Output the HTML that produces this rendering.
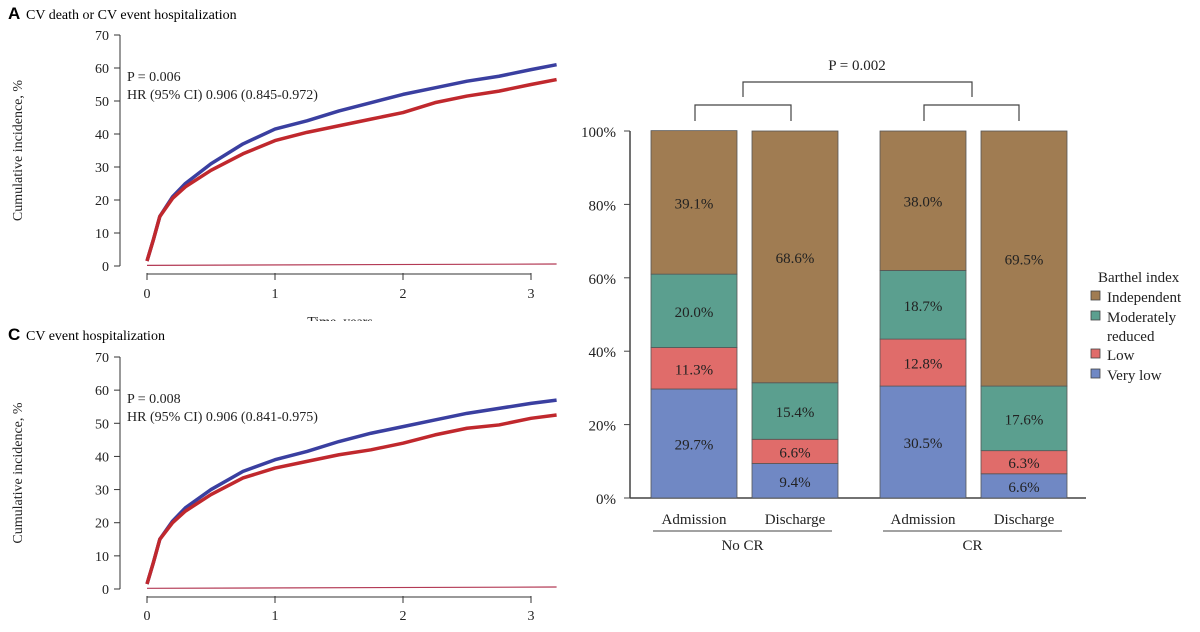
<!DOCTYPE html>
<html><head><meta charset="utf-8"><style>
body{margin:0;background:#fff;}
svg{display:block;font-family:"Liberation Serif",serif;}
</style></head><body>
<svg id="svg" width="1200" height="632" viewBox="0 0 1200 632" xmlns="http://www.w3.org/2000/svg">
<defs><clipPath id="clipA"><rect x="0" y="0" width="580" height="321"/></clipPath></defs>
<g id="left"></g>
<g id="right"></g>
</svg>
<script>
// ===== KM curves data =====
const kmTimes = [0, 0.05, 0.1, 0.2, 0.3, 0.5, 0.75, 1, 1.25, 1.5, 1.75, 2, 2.25, 2.5, 2.75, 3, 3.2];
const aBlue = [1.5, 8, 15, 21, 25, 31, 37, 41.5, 44, 47, 49.5, 52, 54, 56, 57.5, 59.5, 61];
const aRed  = [1.5, 8, 15, 20.5, 24, 29, 34, 38, 40.5, 42.5, 44.5, 46.5, 49.5, 51.5, 53, 55, 56.5];
const cBlue = [1.5, 8, 15, 20.5, 24.5, 30, 35.5, 39, 41.5, 44.5, 47, 49, 51, 53, 54.5, 56, 57];
const cRed  = [1.5, 8, 15, 20, 23.5, 28.5, 33.5, 36.5, 38.5, 40.5, 42, 44, 46.5, 48.5, 49.5, 51.5, 52.5];
const flatTimes = [0, 3.2];
const flatVals = [0.2, 0.6];
const yTicks = [0, 10, 20, 30, 40, 50, 60, 70];
const xTicks = [0, 1, 2, 3];

// ===== Bar data =====
const barCats = ["Admission", "Discharge", "Admission", "Discharge"];
const veryLow = [29.7, 9.4, 30.5, 6.6];
const low = [11.3, 6.6, 12.8, 6.3];
const moderate = [20.0, 15.4, 18.7, 17.6];
const independent = [39.1, 68.6, 38.0, 69.5];
const pctTicks = [0, 20, 40, 60, 80, 100];

const NS = "http://www.w3.org/2000/svg";
function mk(tag, attrs, parent, text) {
  const e = document.createElementNS(NS, tag);
  for (const k in attrs) e.setAttribute(k, attrs[k]);
  if (text !== undefined) e.textContent = text;
  parent.appendChild(e);
  return e;
}
const left = document.getElementById("left");
const right = document.getElementById("right");

function kmPanel(letter, title, titleY, y0, y70, axisY, labelY, pText, hrText, pY, blue, red, clip) {
  const g = mk("g", clip ? {"clip-path": "url(#clipA)"} : {}, left);
  
  
  const xS = t => 147 + t * 128;
  const yS = v => y0 + (y70 - y0) * v / 70;
  const L = mk("text", {x: 8, y: titleY, "font-family": "Liberation Sans,sans-serif", "font-weight": "bold", "font-size": 17}, g, letter);
  
  
  const T = mk("text", {x: 26, y: titleY, "font-size": 14}, g, title);
  
  
  const ya = mk("line", {x1: 120, x2: 120, y1: yS(0), y2: yS(70), stroke: "#333", "stroke-width": 1}, g);
  
  
  yTicks.forEach(v => {
    mk("line", {x1: 114, x2: 120, y1: yS(v), y2: yS(v), stroke: "#333"}, g);
    const t = mk("text", {x: 109, y: yS(v) + 5, "text-anchor": "end", "font-size": 14, fill: "#222"}, g, v);
    
    
  });
  const yt = mk("text", {x: 0, y: 0, transform: `translate(22,${(yS(0) + yS(70)) / 2}) rotate(-90)`, "text-anchor": "middle", "font-size": 14, fill: "#222"}, g, "Cumulative incidence, %");
  
  
  const xa = mk("line", {x1: xS(0), x2: xS(3), y1: axisY, y2: axisY, stroke: "#333"}, g);
  
  
  xTicks.forEach(v => {
    mk("line", {x1: xS(v), x2: xS(v), y1: axisY - 1, y2: axisY + 6, stroke: "#333"}, g);
    const t = mk("text", {x: xS(v), y: labelY, "text-anchor": "middle", "font-size": 14, fill: "#222"}, g, v);
    
    
  });
  const xt = mk("text", {x: 340, y: labelY + 28, "text-anchor": "middle", "font-size": 14, fill: "#222"}, g, "Time, years");
  
  
  const p1 = mk("text", {x: 127, y: pY, "font-size": 14, fill: "#222"}, g, pText);
  
  
  const p2 = mk("text", {x: 127, y: pY + 18, "font-size": 14, fill: "#222"}, g, hrText);
  
  
  [[flatVals, flatTimes, "#b33a55", 1.2, "flat-line"], [blue, kmTimes, "#3a3fa0", 3.5, "cr-curve"], [red, kmTimes, "#c0282d", 3.5, "no-cr-curve"]].forEach(([vals, ts, col, w, nm]) => {
    const pts = vals.map((v, i) => xS(ts[i]) + "," + yS(v)).join(" ");
    const pl = mk("polyline", {points: pts, fill: "none", stroke: col, "stroke-width": w, "stroke-linejoin": "round"}, g);
    
    
  });
}
kmPanel("A", "CV death or CV event hospitalization", 19, 266, 35, 274, 298, "P = 0.006", "HR (95% CI) 0.906 (0.845-0.972)", 81, aBlue, aRed, true);
kmPanel("C", "CV event hospitalization", 340, 589, 357, 597, 620, "P = 0.008", "HR (95% CI) 0.906 (0.841-0.975)", 403, cBlue, cRed, false);

// ===== Bar chart =====
const yB = v => 498 + (131 - 498) * v / 100;
const barX = [651, 752, 880, 981];
const barW = 86;
const cols = ["#7088c4", "#e06c6a", "#5b9f8f", "#a07c52"];
const segNames = ["very-low", "low", "moderately-reduced", "independent"];
const series = [veryLow, low, moderate, independent];
mk("line", {x1: 630, x2: 630, y1: yB(0), y2: yB(100), stroke: "#444", "stroke-width": 1.5}, right);
mk("line", {x1: 630, x2: 1086, y1: yB(0), y2: yB(0), stroke: "#444", "stroke-width": 1.5}, right);
pctTicks.forEach(v => {
  mk("line", {x1: 624, x2: 630, y1: yB(v), y2: yB(v), stroke: "#444"}, right);
  const t = mk("text", {x: 616, y: yB(v) + 6, "text-anchor": "end", "font-size": 15, fill: "#222"}, right, v + "%");
  
  
});
barCats.forEach((c, i) => {
  let cum = 0;
  series.forEach((s, k) => {
    const v = s[i];
    const r = mk("rect", {x: barX[i], y: yB(cum + v), width: barW, height: yB(cum) - yB(cum + v), fill: cols[k], stroke: "#555", "stroke-width": 0.8}, right);
    
    
    const t = mk("text", {x: barX[i] + barW / 2, y: (yB(cum) + yB(cum + v)) / 2 + 6, "text-anchor": "middle", "font-size": 15, fill: "#222"}, right, v.toFixed(1) + "%");
    
    
    cum += v;
  });
  const t = mk("text", {x: barX[i] + barW / 2, y: 524, "text-anchor": "middle", "font-size": 15, fill: "#222"}, right, c);
  
  
});
[["No CR", 653, 832], ["CR", 883, 1062]].forEach(([n, a, b]) => {
  mk("line", {x1: a, x2: b, y1: 531, y2: 531, stroke: "#444"}, right);
  const t = mk("text", {x: (a + b) / 2, y: 550, "text-anchor": "middle", "font-size": 15, fill: "#222"}, right, n);
  
  
});
[[743, 972, 82, 97], [695, 791, 105, 121], [924, 1019, 105, 121]].forEach(([a, b, t, bt]) => {
  const p = mk("path", {d: `M${a},${bt} V${t} H${b} V${bt}`, fill: "none", stroke: "#444", "stroke-width": 1.2}, right);
  
  
});
const pv = mk("text", {x: 857, y: 70, "text-anchor": "middle", "font-size": 15, fill: "#222"}, right, "P = 0.002");


const lg = mk("g", {}, right);


mk("text", {x: 1098, y: 282, "font-size": 15, fill: "#222"}, lg, "Barthel index");
const legItems = [["Independent", 3, 302], ["Moderately", 2, 322], ["Low", 1, 360], ["Very low", 0, 380]];
legItems.forEach(([n, k, y]) => {
  mk("rect", {x: 1091, y: y - 11, width: 9, height: 9, fill: cols[k], stroke: "#444", "stroke-width": 0.8}, lg);
  const t = mk("text", {x: 1107, y: y, "font-size": 15, fill: "#222"}, lg, n);
  
  
});
mk("text", {x: 1107, y: 341, "font-size": 15, fill: "#222"}, lg, "reduced");
</script>
</body></html>
